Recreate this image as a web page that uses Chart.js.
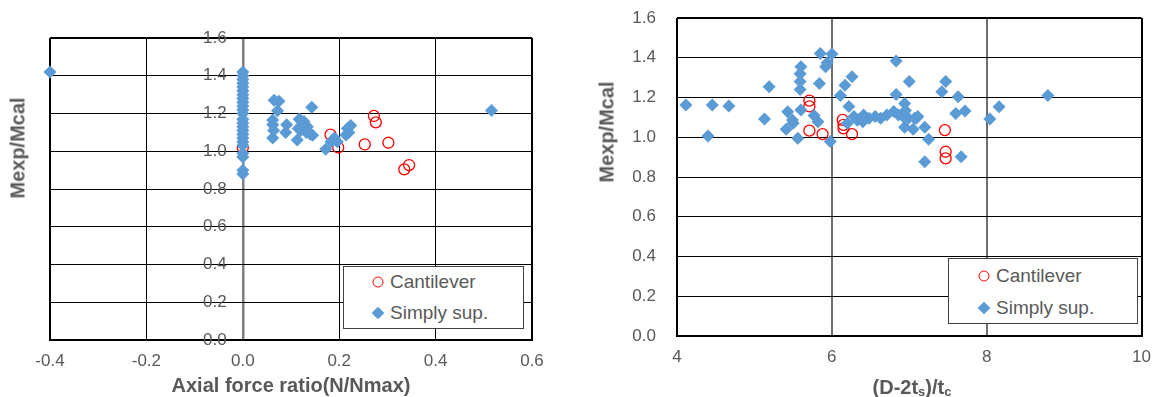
<!DOCTYPE html>
<html>
<head>
<meta charset="utf-8">
<script src="https://cdn.jsdelivr.net/npm/chart.js@4.4.1/dist/chart.umd.min.js"></script>
<style>
  body { margin: 0; background: #fff; font-family: 'Liberation Sans', Arial, sans-serif; color: #595959; }
  #wrap { position: relative; width: 1162px; height: 397px; overflow: hidden; }
  .box { position: absolute; top: 0; height: 397px; }
  .ytitle { position: absolute; transform: translate(-50%, -50%) rotate(-90deg); white-space: nowrap; font-weight: bold; font-size: 20px; }
  .xtitle { position: absolute; transform: translate(-50%, -50%); white-space: nowrap; font-weight: bold; font-size: 20px; }
  .xtitle sub { font-size: 13px; vertical-align: baseline; position: relative; top: 2px; }
  .legend { position: absolute; background: #fff; border: 1px solid #404040; box-sizing: border-box; }
  .row { position: absolute; font-size: 19px; white-space: nowrap; transform: translateY(-50%); }
  .circle { position: absolute; width: 9px; height: 9px; border: 1.3px solid #ff0000; border-radius: 50%; transform: translate(-50%, -50%); }
  .diamond { position: absolute; width: 9px; height: 9px; background: #5b9bd5; transform: translate(-50%, -50%) rotate(45deg); }
</style>
</head>
<body>
<div id="wrap">
  <div class="box" style="left:0;width:560px"><canvas id="axialChart"></canvas></div>
  <div class="box" style="left:560px;width:602px"><canvas id="slenderChart"></canvas></div>

  <div class="ytitle" style="left:18px;top:148px">Mexp/Mcal</div>
  <div class="xtitle" style="left:291px;top:385px">Axial force ratio(N/Nmax)</div>
  <div class="ytitle" style="left:607px;top:132px">Mexp/Mcal</div>
  <div class="xtitle" style="left:912px;top:387px">(D-2t<sub>s</sub>)/t<sub>c</sub></div>

  <div class="legend" style="left:343px;top:266px;width:181px;height:63px"></div>
  <div class="circle" style="left:378px;top:282px"></div>
  <div class="row" style="left:390px;top:282px">Cantilever</div>
  <div class="diamond" style="left:378px;top:313px"></div>
  <div class="row" style="left:390px;top:313px">Simply sup.</div>

  <div class="legend" style="left:948px;top:258px;width:190px;height:66px"></div>
  <div class="circle" style="left:984px;top:276px"></div>
  <div class="row" style="left:996px;top:276px">Cantilever</div>
  <div class="diamond" style="left:984px;top:308px"></div>
  <div class="row" style="left:996px;top:308px">Simply sup.</div>
</div>

<script>
'use strict';

// data

// left chart: axial force ratio vs Mexp/Mcal
let axialSimplyX = [
  -0.40, 0.516,
  0, 0, 0, 0, 0, 0, 0, 0, 0, 0, 0, 0, 0, 0, 0, 0, 0, 0, 0, 0, 0, 0, 0, 0,
  0.065, 0.075, 0.072, 0.143, 0.062, 0.062, 0.064, 0.091, 0.089, 0.062, 0.117, 0.127, 0.115,
  0.120, 0.134, 0.140, 0.145, 0.113, 0.132, 0.172, 0.183, 0.190, 0.196, 0.217, 0.220, 0.214,
  0.224, 0.188, 0.118
];
let axialSimplyY = [
  1.42, 1.216,
  1.42, 1.40, 1.38, 1.36, 1.34, 1.32, 1.30, 1.28, 1.26, 1.24, 1.22, 1.20, 1.17, 1.15, 1.13, 1.11,
  1.09, 1.07, 1.05, 1.03, 0.99, 0.97, 0.90, 0.88,
  1.27, 1.265, 1.215, 1.233, 1.166, 1.14, 1.11, 1.14, 1.10, 1.07, 1.17, 1.157, 1.12,
  1.11, 1.13, 1.09, 1.085, 1.06, 1.10, 1.010, 1.05, 1.07, 1.05, 1.12, 1.10, 1.086,
  1.136, 1.06, 1.17
];
let axialCantX = [0, 0.182, 0.198, 0.272, 0.276, 0.253, 0.302, 0.335, 0.345];
let axialCantY = [1.02, 1.088, 1.02, 1.187, 1.153, 1.036, 1.045, 0.904, 0.927];

// right chart: (D-2ts)/tc vs Mexp/Mcal
let slenderSimplyX = [
  4.115, 4.40, 4.456, 4.67, 5.19, 5.13, 5.41, 5.43, 5.49, 5.50, 5.56, 5.60, 5.59, 5.59, 5.59, 5.60,
  5.84, 5.85, 6.00, 5.92, 5.94, 5.77, 5.82, 5.98,
  6.83, 6.26, 6.17, 6.11, 7.00, 6.83, 7.47, 7.42, 7.63, 7.60, 7.72, 6.94, 6.95, 6.22,
  6.285, 6.37, 6.41, 6.48, 6.56, 6.63, 6.71, 6.80, 6.86, 6.92, 6.99, 7.07, 7.11, 6.40, 6.33,
  6.20, 6.94, 7.05, 7.20, 7.09, 7.25, 7.20, 7.67, 8.04, 8.16, 8.79
];
let slenderSimplyY = [
  1.162, 1.006, 1.162, 1.157, 1.254, 1.092, 1.04, 1.128, 1.087, 1.07, 0.995, 1.355, 1.32, 1.28, 1.24, 1.137,
  1.271, 1.422, 1.419, 1.355, 1.375, 1.11, 1.078, 0.978,
  1.384, 1.305, 1.262, 1.21, 1.28, 1.215, 1.28, 1.229, 1.204, 1.12, 1.132, 1.17, 1.135, 1.155,
  1.104, 1.095, 1.112, 1.095, 1.104, 1.095, 1.112, 1.129, 1.112, 1.104, 1.095, 1.095, 1.104, 1.078, 1.085,
  1.07, 1.05, 1.04, 1.05, 1.095, 0.99, 0.877, 0.902, 1.092, 1.154, 1.21
];
let slenderCantX = [5.71, 5.71, 5.71, 5.88, 6.14, 6.15, 6.15, 6.26, 7.46, 7.47, 7.47];
let slenderCantY = [1.184, 1.155, 1.033, 1.016, 1.087, 1.062, 1.045, 1.016, 1.036, 0.927, 0.894];

let yTicks = { min: 0, max: 1.6, step: 0.2 };
let axialTicks = { min: -0.4, max: 0.6, step: 0.2 };
let slenderTicks = { min: 4, max: 10, step: 2 };

// helpers

let blue = '#5b9bd5';
let red = '#ff0000';
let labelColor = '#595959';

function toPoints(xs, ys) {
  let points = [];
  for (let i = 0; i < xs.length; i++) {
    points.push({ x: xs[i], y: ys[i] });
  }
  return points;
}

function makeDatasets(simplyX, simplyY, cantX, cantY) {
  // simply sup. first so it is drawn on top of the circles
  return [
    {
      label: 'Simply sup.',
      data: toPoints(simplyX, simplyY),
      pointStyle: 'rectRot',
      pointRadius: 6.5,
      backgroundColor: blue,
      borderColor: blue,
      borderWidth: 0,
      clip: false
    },
    {
      label: 'Cantilever',
      data: toPoints(cantX, cantY),
      pointStyle: 'circle',
      pointRadius: 5.5,
      backgroundColor: 'rgba(0,0,0,0)',
      borderColor: red,
      borderWidth: 1.3,
      clip: false
    }
  ];
}

function isNear(a, b) {
  return Math.abs(a - b) < 1e-6;
}

let tickFont = { family: "'Liberation Sans', Arial, sans-serif", size: 17 };

function yGrid(extra) {
  let grid = {
    drawTicks: false,
    color: '#000',
    lineWidth: (ctx) => (isNear(ctx.tick.value, yTicks.min) || isNear(ctx.tick.value, yTicks.max)) ? 2 : 1
  };
  return Object.assign(grid, extra);
}

function yTickOpts(extra) {
  let ticks = {
    stepSize: yTicks.step,
    color: labelColor,
    font: tickFont,
    padding: 0,
    callback: (v) => Number(v).toFixed(1)
  };
  return Object.assign(ticks, extra);
}

// left chart

let axialCtx = document.getElementById('axialChart').getContext('2d');

let axialChart = new Chart(axialCtx, {
  type: 'scatter',
  data: { datasets: makeDatasets(axialSimplyX, axialSimplyY, axialCantX, axialCantY) },
  options: {
    responsive: true,
    maintainAspectRatio: false,
    animation: false,
    layout: { padding: { left: 50, right: 28, top: 38, bottom: 22 } },
    plugins: { legend: { display: false }, tooltip: { enabled: false } },
    scales: {
      x: {
        type: 'linear',
        position: 'bottom',
        min: axialTicks.min,
        max: axialTicks.max,
        afterFit: (scale) => { scale.height = 35; },
        ticks: {
          stepSize: axialTicks.step,
          color: labelColor,
          font: tickFont,
          padding: 11,
          callback: (v) => Number(v).toFixed(1)
        },
        grid: {
          drawTicks: false,
          color: (ctx) => isNear(ctx.tick.value, 0) ? '#7f7f7f' : '#000',
          lineWidth: (ctx) => {
            let v = ctx.tick.value;
            if (isNear(v, 0)) return 2.5;
            if (isNear(v, axialTicks.min) || isNear(v, axialTicks.max)) return 2;
            return 1;
          }
        },
        border: { display: true, color: '#000', width: 2 }
      },
      // labels are mirrored into the plot so they sit just left of the x = 0 line
      y: {
        type: 'linear',
        position: 'left',
        min: yTicks.min,
        max: yTicks.max,
        afterFit: (scale) => {
          scale.width = 0;
          // the big mirror padding should not push the plot down
          scale.paddingTop = 10;
          scale.paddingBottom = 10;
        },
        ticks: yTickOpts({ mirror: true, padding: 153 }),
        grid: yGrid(),
        border: { display: false }
      }
    }
  }
});

// right chart

let slenderCtx = document.getElementById('slenderChart').getContext('2d');

let slenderChart = new Chart(slenderCtx, {
  type: 'scatter',
  data: { datasets: makeDatasets(slenderSimplyX, slenderSimplyY, slenderCantX, slenderCantY) },
  options: {
    responsive: true,
    maintainAspectRatio: false,
    animation: false,
    layout: { padding: { left: 57, right: 15, top: 18, bottom: 26 } },
    plugins: { legend: { display: false }, tooltip: { enabled: false } },
    scales: {
      x: {
        type: 'linear',
        position: 'bottom',
        min: slenderTicks.min,
        max: slenderTicks.max,
        afterFit: (scale) => { scale.height = 35; },
        ticks: {
          stepSize: slenderTicks.step,
          color: labelColor,
          font: tickFont,
          padding: 11
        },
        grid: {
          drawTicks: false,
          color: (ctx) => (isNear(ctx.tick.value, slenderTicks.min) || isNear(ctx.tick.value, slenderTicks.max)) ? '#000' : '#6f6f6f',
          lineWidth: 2
        },
        border: { display: true, color: '#000', width: 2 }
      },
      y: {
        type: 'linear',
        position: 'left',
        min: yTicks.min,
        max: yTicks.max,
        afterFit: (scale) => { scale.width = 60; },
        ticks: yTickOpts({}),
        // invisible tick marks give the label gap without padding the top
        grid: yGrid({ drawTicks: true, tickLength: 21, tickColor: 'rgba(0,0,0,0)' }),
        border: { display: false }
      }
    }
  }
});
</script>
</body>
</html>
